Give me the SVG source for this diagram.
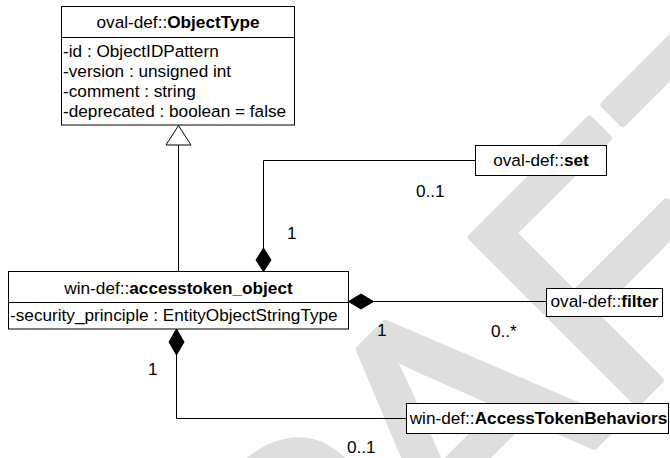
<svg xmlns="http://www.w3.org/2000/svg" width="670" height="458" viewBox="0 0 670 458">
<style>
text{font-family:"Liberation Sans",Arial,sans-serif;font-size:17.2px;fill:#000}
.b{font-weight:bold}
.box{fill:#fff;stroke:#000;stroke-width:1}
.ln{fill:none;stroke:#000;stroke-width:1}
.dia{fill:#000;stroke:#000;stroke-width:1}
.wm{font-family:"Liberation Sans",Arial,sans-serif;font-size:340px;fill:#dedede;stroke:#dedede;stroke-width:8;stroke-linejoin:round}
</style>
<rect width="670" height="458" fill="#fff"/>
<g id="watermark"><text class="wm" transform="translate(110,930) rotate(-45)" dx="0 30 -30 0 0">DRAFT</text></g>
<g id="connectors">
<line class="ln" x1="178.5" y1="145" x2="178.5" y2="271.5"/>
<polygon class="box" points="178.5,125.5 166,145 191,145"/>
<path class="ln" d="M263.5,248 V160.5 H475.5"/>
<polygon class="dia" points="263.5,248 256,260 263.5,271.5 271,260"/>
<path class="ln" d="M373.5,301.5 H546.5"/>
<polygon class="dia" points="348.5,301.5 361,294 373.5,301.5 361,309"/>
<path class="ln" d="M176.5,355 V418.5 H406.5"/>
<polygon class="dia" points="176.5,329 169,342 176.5,355 184,342"/>
<text x="287" y="238.5">1</text>
<text x="416" y="197">0..1</text>
<text x="377" y="336">1</text>
<text x="491" y="336.5">0..*</text>
<text x="148" y="374.5">1</text>
<text x="347" y="453">0..1</text>
</g>
<g id="ObjectType">
<rect class="box" x="61.5" y="6.5" width="233" height="118.5"/>
<line class="ln" x1="61.5" y1="37.5" x2="294.5" y2="37.5"/>
<text x="178" y="27.5" text-anchor="middle">oval-def::<tspan class="b">ObjectType</tspan></text>
<text x="63" y="56.5">-id : ObjectIDPattern</text>
<text x="63" y="76.5">-version : unsigned int</text>
<text x="63" y="96.5">-comment : string</text>
<text x="63" y="116.5">-deprecated : boolean = false</text>
</g>
<g id="accesstoken_object">
<rect class="box" x="8.5" y="271.5" width="340" height="57.5"/>
<line class="ln" x1="8.5" y1="302.5" x2="348.5" y2="302.5"/>
<text x="178.5" y="293.5" text-anchor="middle">win-def::<tspan class="b">accesstoken_object</tspan></text>
<text x="10" y="320.5">-security_principle : EntityObjectStringType</text>
</g>
<g id="set">
<rect class="box" x="475.5" y="145.5" width="131" height="30"/>
<text x="541" y="166" text-anchor="middle">oval-def::<tspan class="b">set</tspan></text>
</g>
<g id="filter">
<rect class="box" x="546.5" y="288.5" width="116" height="28"/>
<text x="604.5" y="306.5" text-anchor="middle">oval-def::<tspan class="b">filter</tspan></text>
</g>
<g id="AccessTokenBehaviors">
<rect class="box" x="406.5" y="403.5" width="262" height="30"/>
<text x="538.5" y="424" text-anchor="middle">win-def::<tspan class="b">AccessTokenBehaviors</tspan></text>
</g>
</svg>
